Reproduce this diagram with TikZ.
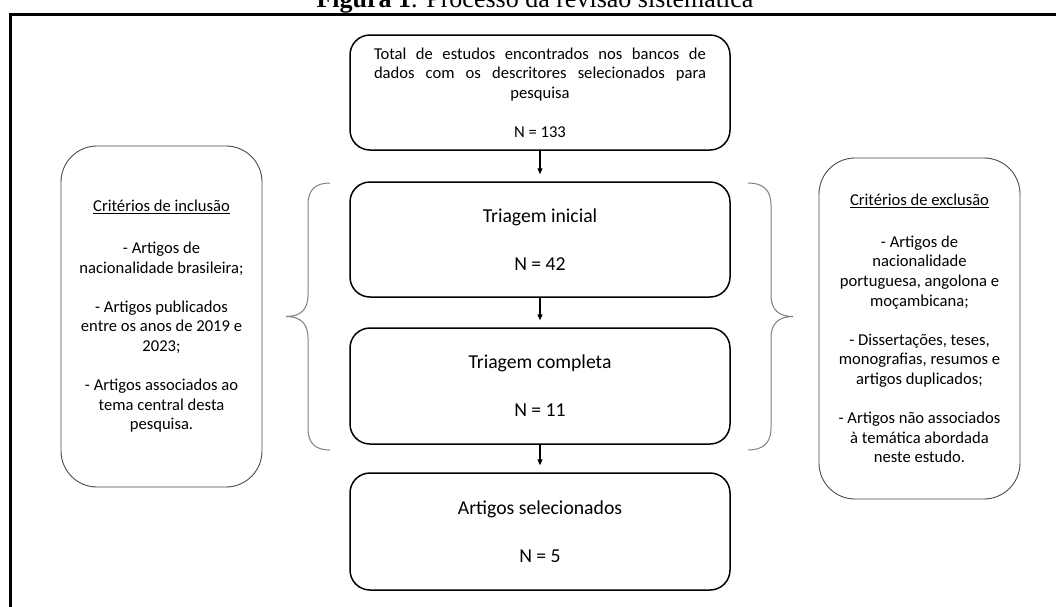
\documentclass[tikz,border=0pt]{standalone}
\usepackage{fontspec}
\setmainfont{Carlito}
\newfontfamily\titlefont{Liberation Serif}
\usetikzlibrary{arrows.meta}
\begin{document}
\begin{tikzpicture}[x=1pt,y=-1pt,
  mainbox/.style={draw=black, line width=1.5pt, rounded corners=20pt, minimum width=380pt, align=center, inner sep=0pt},
  sidebox/.style={draw=black!70, line width=0.9pt, rounded corners=36pt, minimum width=201pt, minimum height=341pt, align=center, inner sep=0pt},
  smalltext/.style={font=\fontsize{16.6}{19.6}\selectfont},
  bigtext/.style={font=\fontsize{19.7}{24}\selectfont},
  flow/.style={-{Triangle[length=6pt,width=5pt]}, line width=1.2pt, shorten >=7pt},
  bracket/.style={draw=black!50, line width=1pt},
  frame/.style={line width=3pt, line join=miter},
]
\useasboundingbox (0,0) rectangle (1056,606);
\fill[white] (0,0) rectangle (1056,606);
\node[anchor=base, inner sep=0pt, font=\titlefont\fontsize{26}{30}\selectfont] (title) at (535,7) {\textbf{Figura 1}. Processo da revisão sistemática};
\draw[frame] (1062,14) -- (10,14) -- (10,612);

\node[mainbox, smalltext, minimum height=115pt] (top) at (540,92.5)
  {\makebox[332pt][s]{Total de estudos encontrados nos bancos de}\\
   \makebox[332pt][s]{dados com os descritores selecionados para}\\
   pesquisa\\[19.6pt]
   N = 133};
\node[mainbox, bigtext, minimum height=115pt] (tri) at (540,239.5)
  {Triagem inicial\\[24pt]N = 42};
\node[mainbox, bigtext, minimum height=116pt] (tc) at (540,386)
  {Triagem completa\\[24pt]N = 11};
\node[mainbox, bigtext, minimum height=117pt] (sel) at (540,531.5)
  {Artigos selecionados\\[24pt]N = 5};

\node[sidebox, smalltext] (inc) at (161.5,316.5)
  {\underline{Critérios de inclusão}\\[22pt]
   - Artigos de\\nacionalidade brasileira;\\[19.6pt]
   - Artigos publicados\\entre os anos de 2019 e\\2023;\\[19.6pt]
   - Artigos associados ao\\tema central desta\\pesquisa.};
\node[sidebox, smalltext] (exc) at (919.5,328.5)
  {\underline{Critérios de exclusão}\\[22pt]
   - Artigos de\\nacionalidade\\portuguesa, angolona e\\moçambicana;\\[19.6pt]
   - Dissertações, teses,\\monografias, resumos e\\artigos duplicados;\\[19.6pt]
   - Artigos não associados\\à temática abordada\\neste estudo.};

\draw[flow] (top.south) -- (tri.north);
\draw[flow] (tri.south) -- (tc.north);
\draw[flow] (tc.south) -- (sel.north);

% left brace
\draw[bracket] (330,183) .. controls (315,183) and (308,190) .. (308,205)
  -- (308,295) .. controls (308,310) and (300,316.5) .. (286,316.5)
  .. controls (300,316.5) and (308,323) .. (308,338)
  -- (308,428) .. controls (308,443) and (315,450) .. (330,450);
% right brace
\draw[bracket] (748,183) .. controls (763,183) and (771,190) .. (771,205)
  -- (771,295) .. controls (771,310) and (779,316.5) .. (793,316.5)
  .. controls (779,316.5) and (771,323) .. (771,338)
  -- (771,428) .. controls (771,443) and (763,450) .. (748,450);
\end{tikzpicture}
\end{document}
